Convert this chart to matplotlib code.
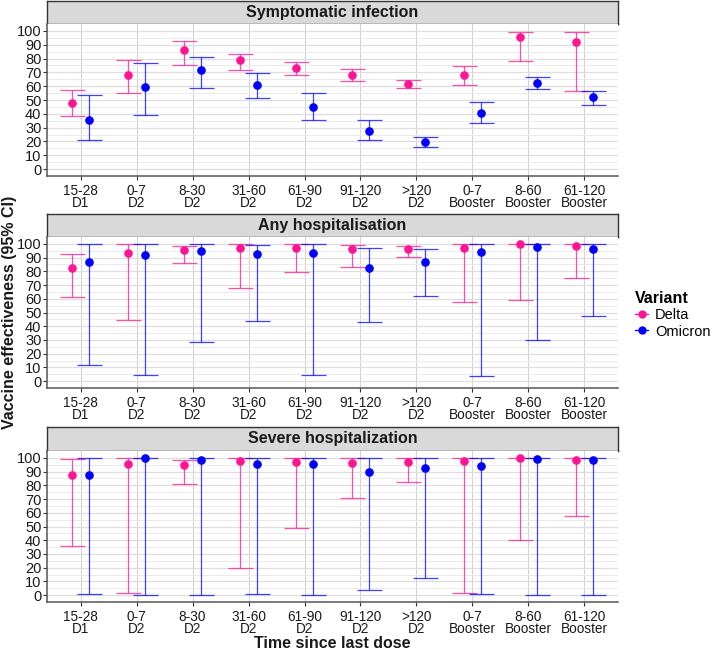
import matplotlib
matplotlib.use("Agg")
import matplotlib.pyplot as plt
import numpy as np
from matplotlib.lines import Line2D

plt.rcParams["font.family"] = ["Liberation Sans", "DejaVu Sans"]

# categories (time since last dose)
periods = ["15-28", "0-7", "8-30", "31-60", "61-90", "91-120", ">120", "0-7", "8-60", "61-120"]
doses = ["D1", "D2", "D2", "D2", "D2", "D2", "D2", "Booster", "Booster", "Booster"]
tick_labels = [f"{p}\n{d}" for p, d in zip(periods, doses)]

panel_titles = ["Symptomatic infection", "Any hospitalisation", "Severe hospitalization"]
variants = ["Delta", "Omicron"]

# Symptomatic infection
sym_delta = [47.6, 68.4, 86.2, 78.6, 73.3, 68.0, 61.7, 68.0, 95.4, 92.2]
sym_delta_lo = [38.3, 55.3, 75.5, 71.8, 68.2, 63.6, 58.7, 60.9, 78.4, 56.8]
sym_delta_hi = [57.3, 79.1, 92.7, 83.5, 77.7, 72.3, 64.6, 74.8, 99.3, 99.3]
sym_omi = [35.4, 59.7, 71.6, 60.7, 45.1, 27.7, 19.4, 40.8, 62.6, 51.9]
sym_omi_lo = [20.9, 39.1, 58.7, 51.5, 35.4, 20.9, 16.0, 33.3, 58.3, 46.6]
sym_omi_hi = [53.6, 76.9, 81.3, 69.7, 55.3, 35.4, 23.5, 48.8, 66.5, 56.8]

# Any hospitalisation
hosp_delta = [82.4, 93.5, 95.4, 97.3, 96.9, 96.6, 96.6, 96.9, 99.8, 98.8]
hosp_delta_lo = [61.4, 44.3, 85.8, 68.2, 79.3, 83.4, 90.6, 57.3, 59.3, 75.4]
hosp_delta_hi = [92.8, 100, 98.6, 100, 100, 99.0, 98.3, 100, 100, 100]
hosp_omi = [86.7, 92.0, 94.5, 92.8, 93.5, 82.4, 86.7, 94.0, 97.8, 96.4]
hosp_omi_lo = [11.8, 4.8, 28.2, 43.6, 4.8, 42.9, 61.9, 3.9, 30.1, 47.5]
hosp_omi_hi = [100, 100, 100, 99.3, 100, 97.1, 96.4, 100, 100, 100]

# Severe hospitalization
sev_delta = [87.4, 95.7, 94.7, 97.8, 97.1, 96.4, 96.9, 97.8, 99.8, 98.6]
sev_delta_lo = [35.5, 1.4, 80.7, 20.0, 48.6, 70.5, 82.6, 1.4, 39.9, 58.0]
sev_delta_hi = [99.3, 100, 98.3, 100, 100, 99.8, 100, 100, 100, 100]
sev_omi = [87.4, 100, 98.6, 95.4, 95.4, 89.6, 92.5, 93.9, 99.0, 98.3]
sev_omi_lo = [1.0, 0.0, 0.0, 1.0, 0.0, 3.4, 12.8, 0.7, 0.0, 0.0]
sev_omi_hi = [100, 100, 100, 100, 100, 100, 100, 100, 100, 100]

panels = [
    ((sym_delta, sym_delta_lo, sym_delta_hi), (sym_omi, sym_omi_lo, sym_omi_hi)),
    ((hosp_delta, hosp_delta_lo, hosp_delta_hi), (hosp_omi, hosp_omi_lo, hosp_omi_hi)),
    ((sev_delta, sev_delta_lo, sev_delta_hi), (sev_omi, sev_omi_lo, sev_omi_hi)),
]

colors = {"Delta": "#FF1493", "Omicron": "#0000FF"}
offsets = {"Delta": -0.15, "Omicron": 0.15}

W, H = 718, 651
fig = plt.figure(figsize=(W / 100, H / 100), dpi=100)


def box(x0, y0, x1, y1):
    # pixel box (top-left origin) -> figure fraction rect
    return [x0 / W, 1 - y1 / H, (x1 - x0) / W, (y1 - y0) / H]


left, right = 47, 618
layout = [(1, 24, 176), (214, 237, 388), (427, 451, 602)]

x = np.arange(1, len(periods) + 1)

for (strip_top, ax_top, ax_bot), title, series in zip(layout, panel_titles, panels):
    sax = fig.add_axes(box(left, strip_top, right, ax_top))
    sax.set_facecolor("#D9D9D9")
    sax.set_xticks([])
    sax.set_yticks([])
    for s in sax.spines.values():
        s.set_color("#333333")
        s.set_linewidth(1.0)
    sax.text(0.5, 0.5, title, ha="center", va="center", fontsize=11.5,
             fontweight="bold", color="#1A1A1A", transform=sax.transAxes)

    ax = fig.add_axes(box(left, ax_top, right, ax_bot))
    ax.set_xlim(0.4, 10.6)
    ax.set_ylim(-5, 105)
    ax.set_yticks(np.arange(0, 101, 10))
    ax.set_yticks(np.arange(5, 100, 10), minor=True)
    ax.set_xticks(x)
    ax.set_xticklabels(tick_labels, fontsize=9.8, color="#1A1A1A", linespacing=0.78)
    ax.tick_params(axis="y", labelsize=10.5, labelcolor="#1A1A1A", length=3,
                   color="#333333", pad=1)
    ax.tick_params(axis="y", which="minor", length=0)
    ax.tick_params(axis="x", length=3, color="#333333", pad=3)
    ax.grid(axis="y", which="major", color="#DEDEDE", lw=0.9)
    ax.grid(axis="y", which="minor", color="#EBEBEB", lw=0.7)
    ax.grid(axis="x", which="major", color="#D3D3D3", lw=0.8)
    ax.set_axisbelow(True)
    for side in ["top", "right"]:
        ax.spines[side].set_visible(False)
    for side in ["left", "bottom"]:
        ax.spines[side].set_color("#555555")
        ax.spines[side].set_linewidth(1.1)

    for var, (est, lo, hi) in zip(variants, series):
        xs = x + offsets[var]
        est = np.array(est)
        ax.errorbar(xs, est, yerr=[est - np.array(lo), np.array(hi) - est],
                    fmt="none", ecolor=colors[var], elinewidth=0.9, capsize=9,
                    capthick=0.9, alpha=0.75, zorder=3)
        ax.plot(xs, est, "o", color=colors[var], ms=5.2, zorder=4)

fig.text(10 / W, 1 - 312 / H, "Vaccine effectiveness (95% CI)", rotation=90,
         ha="center", va="center", fontsize=11.5, fontweight="bold", color="#1A1A1A")
fig.text(332 / W, 1 - 644 / H, "Time since last dose", ha="center", va="center",
         fontsize=11.5, fontweight="bold", color="#1A1A1A")

handles = [Line2D([0], [0], color=colors[v], marker="o", ms=5, lw=0.9) for v in variants]
leg = fig.legend(handles, variants, title="Variant", loc="upper left",
                 bbox_to_anchor=(625 / W, 1 - 281 / H), frameon=False,
                 fontsize=10.5, title_fontsize=11.5, handlelength=0.9,
                 handletextpad=0.45, labelspacing=0.15, borderpad=0.2)
leg.get_title().set_fontweight("bold")
leg._legend_box.align = "left"

fig.savefig("out.png", dpi=100)
